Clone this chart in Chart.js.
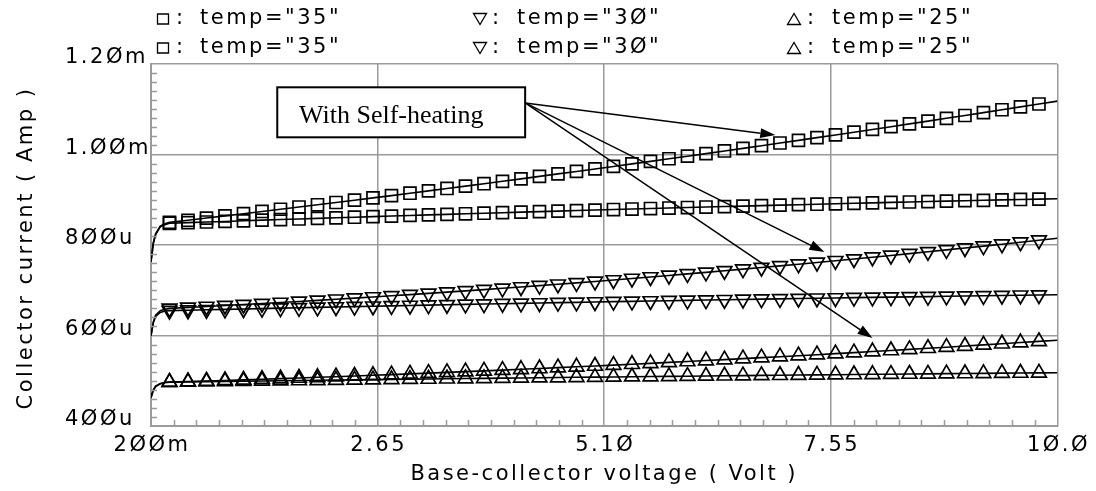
<!DOCTYPE html>
<html>
<head>
<meta charset="utf-8">
<script src="https://cdn.jsdelivr.net/npm/chart.js@4.4.1/dist/chart.umd.min.js"></script>
<style>
  html, body { margin: 0; padding: 0; background: #fff; }
  canvas { display: block; }
</style>
</head>
<body>
<canvas id="c" width="1096" height="491"></canvas>
<script>
// Base-collector voltage sweep (V)
const vbc = [0.2, 0.225, 0.25, 0.3, 0.35,
  0.4, 0.6, 0.8, 1.0, 1.2, 1.4, 1.6, 1.8, 2.0, 2.2, 2.4, 2.6, 2.8, 3.0, 3.2, 3.4, 3.6, 3.8,
  4.0, 4.2, 4.4, 4.6, 4.8, 5.0, 5.2, 5.4, 5.6, 5.8, 6.0, 6.2, 6.4, 6.6, 6.8, 7.0, 7.2, 7.4,
  7.6, 7.8, 8.0, 8.2, 8.4, 8.6, 8.8, 9.0, 9.2, 9.4, 9.6, 9.8, 10.0];

// Collector current (uA), temp = 35, with self-heating
const ic35SelfHeat = [763, 805, 825, 842, 847,
  850.0, 854.7, 859.5, 864.3, 869.2, 874.1, 879.0, 883.9, 888.9, 893.9, 899.0, 904.1, 909.2,
  914.4, 919.6, 924.9, 930.1, 935.4, 940.8, 946.2, 951.6, 957.1, 962.6, 968.1, 973.6, 979.3,
  984.9, 990.6, 996.3, 1002.0, 1007.8, 1013.6, 1019.5, 1025.4, 1031.3, 1037.3, 1043.2, 1049.3,
  1055.4, 1061.5, 1067.6, 1073.8, 1080.0, 1086.2, 1092.5, 1098.9, 1105.2, 1111.6, 1118.0];
// temp = 35, isothermal
const ic35 = [763, 803, 823, 840, 845,
  848.0, 849.4, 850.8, 852.1, 853.5, 854.9, 856.2, 857.5, 858.8, 860.1, 861.4, 862.7, 864.0,
  865.3, 866.5, 867.7, 869.0, 870.2, 871.4, 872.6, 873.8, 874.9, 876.1, 877.2, 878.4, 879.5,
  880.6, 881.7, 882.8, 883.9, 885.0, 886.0, 887.1, 888.1, 889.1, 890.1, 891.1, 892.1,
  893.1, 894.1, 895.0, 896.0, 896.9, 897.9, 898.8, 899.7, 900.6, 901.4, 902.3];
// temp = 30, with self-heating
const ic30SelfHeat = [600, 630, 645, 655, 658,
  660.0, 662.0, 664.1, 666.2, 668.4, 670.6, 672.9, 675.3, 677.6, 680.1, 682.6, 685.1, 687.7,
  690.3, 693.0, 695.8, 698.6, 701.4, 704.3, 707.2, 710.2, 713.3, 716.4, 719.5, 722.7, 726.0,
  729.3, 732.7, 736.1, 739.5, 743.0, 746.6, 750.2, 753.9, 757.6, 761.4, 765.2, 769.0,
  773.0, 776.9, 781.0, 785.0, 789.2, 793.3, 797.6, 801.8, 806.2, 810.6, 815.0];
// temp = 30, isothermal
const ic30 = [600, 628, 642, 651, 654,
  655.0, 655.9, 656.8, 657.7, 658.6, 659.5, 660.4, 661.2, 662.1, 663.0, 663.8, 664.6, 665.5,
  666.3, 667.1, 667.9, 668.7, 669.5, 670.3, 671.0, 671.8, 672.6, 673.3, 674.0, 674.8, 675.5,
  676.2, 676.9, 677.6, 678.3, 679.0, 679.7, 680.3, 681.0, 681.7, 682.3, 682.9, 683.6,
  684.2, 684.8, 685.4, 686.0, 686.6, 687.2, 687.7, 688.3, 688.9, 689.4, 689.9];
// temp = 25, with self-heating
const ic25SelfHeat = [465, 480, 488, 494, 496,
  497.0, 498.2, 499.5, 500.7, 502.0, 503.4, 504.7, 506.1, 507.6, 509.0, 510.5, 512.0, 513.6,
  515.2, 516.8, 518.4, 520.1, 521.8, 523.5, 525.3, 527.1, 528.9, 530.8, 532.6, 534.6, 536.5,
  538.5, 540.5, 542.5, 544.6, 546.7, 548.8, 551.0, 553.2, 555.4, 557.6, 559.9, 562.2,
  564.5, 566.9, 569.3, 571.8, 574.2, 576.7, 579.2, 581.8, 584.4, 587.0, 589.6];
// temp = 25, isothermal
const ic25 = [462, 478, 487, 493, 496,
  497.0, 497.5, 498.0, 498.5, 499.1, 499.6, 500.1, 500.6, 501.0, 501.5, 502.0, 502.5, 503.0,
  503.5, 503.9, 504.4, 504.9, 505.3, 505.8, 506.2, 506.7, 507.1, 507.6, 508.0, 508.4, 508.9,
  509.3, 509.7, 510.1, 510.6, 511.0, 511.4, 511.8, 512.2, 512.6, 513.0, 513.4, 513.8,
  514.2, 514.5, 514.9, 515.3, 515.7, 516.0, 516.4, 516.8, 517.1, 517.5, 517.8];

// Axis ticks
const xTickValues = [0.2, 2.65, 5.1, 7.55, 10.0];
const xTickLabels = ['2ØØm', '2.65', '5.1Ø', '7.55', '1Ø.Ø'];
const yTickValues = [400, 600, 800, 1000, 1200];
const yTickLabels = ['4ØØu', '6ØØu', '8ØØu', '1.ØØm', '1.2Øm'];

// Legend entries (two identical rows)
const legendLabels = ['temp="35"', 'temp="3Ø"', 'temp="25"'];

const GRID = '#9a9a9a';
const FONT = '"DejaVu Sans", sans-serif';
const FONT_SIZE = 21;
const SPACING = '2.5px';

Chart.defaults.font.family = FONT;
Chart.defaults.font.size = FONT_SIZE;
Chart.defaults.color = '#000';

const curves = [
  { values: ic35SelfHeat, style: 'rect', rot: 0 },
  { values: ic35, style: 'rect', rot: 0 },
  { values: ic30SelfHeat, style: 'triangle', rot: 180 },
  { values: ic30, style: 'triangle', rot: 180 },
  { values: ic25SelfHeat, style: 'triangle', rot: 0 },
  { values: ic25, style: 'triangle', rot: 0 }
];

const datasets = curves.map(c => ({
  data: vbc.map((v, i) => ({ x: v, y: c.values[i] })),
  showLine: true,
  borderColor: '#000',
  borderWidth: 1.6,
  tension: 0,
  pointStyle: c.style,
  pointRotation: c.rot,
  pointRadius: ctx => (ctx.dataIndex >= 5 && ctx.dataIndex < vbc.length - 1) ? 8.5 : 0,
  pointBorderColor: '#000',
  pointBackgroundColor: 'rgba(0,0,0,0)',
  pointBorderWidth: 1.7
}));

// Callout box and arrows, in data units (V, uA)
const note = { x1: 1.565, x2: 4.245, y1: 1148.5, y2: 1038, tx: 1.80, ty: 1069.6 };
const arrowFrom = { x: 4.245, y: 1114 };
const arrowTips = [{ x: 6.95, y: 1043 }, { x: 7.48, y: 784.5 }, { x: 8.0, y: 594.5 }];

function drawMarker(ctx, kind, cx, cy) {
  ctx.beginPath();
  if (kind === 'sq') {
    ctx.rect(cx - 5.5, cy - 5, 11, 10);
  } else if (kind === 'down') {
    ctx.moveTo(cx - 6.5, cy - 5.5);
    ctx.lineTo(cx + 6.5, cy - 5.5);
    ctx.lineTo(cx, cy + 5.5);
    ctx.closePath();
  } else {
    ctx.moveTo(cx - 6.5, cy + 5.5);
    ctx.lineTo(cx + 6.5, cy + 5.5);
    ctx.lineTo(cx, cy - 5.5);
    ctx.closePath();
  }
  ctx.stroke();
}

const decor = {
  id: 'decor',
  beforeLayout(chart) { chart.ctx.letterSpacing = SPACING; },
  beforeDraw(chart) {
    const ctx = chart.ctx;
    ctx.letterSpacing = SPACING;
    ctx.save();
    ctx.fillStyle = '#fff';
    ctx.fillRect(0, 0, chart.width, chart.height);
    ctx.restore();
  },
  afterDraw(chart) {
    const ctx = chart.ctx;
    const xs = chart.scales.x, ys = chart.scales.y;
    const area = chart.chartArea;
    const X = v => xs.getPixelForValue(v);
    const Y = v => ys.getPixelForValue(v);

    // minor ticks along the left and bottom frame
    ctx.save();
    ctx.strokeStyle = GRID;
    ctx.lineWidth = 1.5;
    ctx.beginPath();
    for (let v = 420; v < 1200; v += 20) {
      if (v % 200 === 0) continue;
      const py = Math.round(Y(v)) + 0.5;
      ctx.moveTo(area.left, py);
      ctx.lineTo(area.left + 6, py);
    }
    for (let k = 1; k < 40; k++) {
      if (k % 10 === 0) continue;
      const px = Math.round(X(0.2 + k * 0.245)) + 0.5;
      ctx.moveTo(px, area.bottom);
      ctx.lineTo(px, area.bottom - 6);
    }
    ctx.stroke();
    ctx.restore();

    // y axis title
    ctx.save();
    ctx.letterSpacing = SPACING;
    ctx.font = FONT_SIZE + 'px ' + FONT;
    ctx.fillStyle = '#000';
    ctx.translate(32, (area.top + area.bottom) / 2 + 3);
    ctx.rotate(-Math.PI / 2);
    ctx.textAlign = 'center';
    ctx.textBaseline = 'alphabetic';
    ctx.fillText('Collector current ( Amp )', 0, 0);
    ctx.restore();

    // legend rows
    ctx.save();
    ctx.letterSpacing = SPACING;
    ctx.font = FONT_SIZE + 'px ' + FONT;
    ctx.fillStyle = '#000';
    ctx.strokeStyle = '#000';
    ctx.lineWidth = 1.3;
    ctx.textBaseline = 'alphabetic';
    const cols = [
      { mk: 'sq', mx: 163, colon: 176, tx: 200 },
      { mk: 'down', mx: 480, colon: 492, tx: 517 },
      { mk: 'up', mx: 794, colon: 807, tx: 832 }
    ];
    [24, 53].forEach(base => {
      cols.forEach((c, i) => {
        drawMarker(ctx, c.mk, c.mx, base - 5);
        ctx.fillText(':', c.colon, base);
        ctx.fillText(legendLabels[i], c.tx, base);
      });
    });
    ctx.restore();

    // callout
    ctx.save();
    ctx.letterSpacing = '0px';
    const bx1 = X(note.x1), bx2 = X(note.x2), by1 = Y(note.y1), by2 = Y(note.y2);
    ctx.fillStyle = '#fff';
    ctx.fillRect(bx1, by1, bx2 - bx1, by2 - by1);
    ctx.strokeStyle = '#000';
    ctx.lineWidth = 2;
    ctx.strokeRect(bx1, by1, bx2 - bx1, by2 - by1);
    ctx.fillStyle = '#000';
    ctx.font = '26px "Liberation Serif", serif';
    ctx.textBaseline = 'alphabetic';
    ctx.fillText('With Self-heating', X(note.tx), Y(note.ty));

    const ox = X(arrowFrom.x), oy = Y(arrowFrom.y);
    arrowTips.forEach(t => {
      const tx = X(t.x), ty = Y(t.y);
      const ang = Math.atan2(ty - oy, tx - ox);
      const len = 15, half = 5;
      const bxp = tx - len * Math.cos(ang), byp = ty - len * Math.sin(ang);
      ctx.beginPath();
      ctx.moveTo(ox, oy);
      ctx.lineTo(bxp, byp);
      ctx.lineWidth = 1.5;
      ctx.stroke();
      ctx.beginPath();
      ctx.moveTo(tx, ty);
      ctx.lineTo(bxp + half * Math.sin(ang), byp - half * Math.cos(ang));
      ctx.lineTo(bxp - half * Math.sin(ang), byp + half * Math.cos(ang));
      ctx.closePath();
      ctx.fill();
    });
    ctx.restore();
  }
};

new Chart(document.getElementById('c'), {
  type: 'scatter',
  data: { datasets },
  options: {
    responsive: false,
    animation: false,
    devicePixelRatio: 1,
    events: [],
    layout: { padding: { left: 65, top: 64, right: 32, bottom: 0 } },
    plugins: { legend: { display: false }, tooltip: { enabled: false } },
    scales: {
      x: {
        type: 'linear',
        min: 0.2,
        max: 10.0,
        afterBuildTicks: s => { s.ticks = xTickValues.map(v => ({ value: v })); },
        afterFit: s => { s.height = 65; },
        ticks: {
          callback: (v, i) => xTickLabels[i],
          autoSkip: false,
          maxRotation: 0,
          padding: 7,
          labelOffset: 1,
          color: '#000'
        },
        grid: { color: GRID, lineWidth: 1.5, drawTicks: false },
        border: { color: GRID, width: 2 },
        title: {
          display: true,
          text: 'Base-collector voltage ( Volt )',
          color: '#000',
          padding: { top: 0, bottom: 4 }
        }
      },
      y: {
        type: 'linear',
        min: 400,
        max: 1200,
        afterBuildTicks: s => { s.ticks = yTickValues.map(v => ({ value: v })); },
        afterFit: s => { s.width = 86; },
        ticks: {
          callback: (v, i) => yTickLabels[i],
          autoSkip: false,
          crossAlign: 'far',
          labelOffset: -6,
          padding: 0,
          color: '#000'
        },
        grid: { color: GRID, lineWidth: 1.5, drawTicks: false },
        border: { color: GRID, width: 2 }
      }
    }
  },
  plugins: [decor]
});
</script>
</body>
</html>
